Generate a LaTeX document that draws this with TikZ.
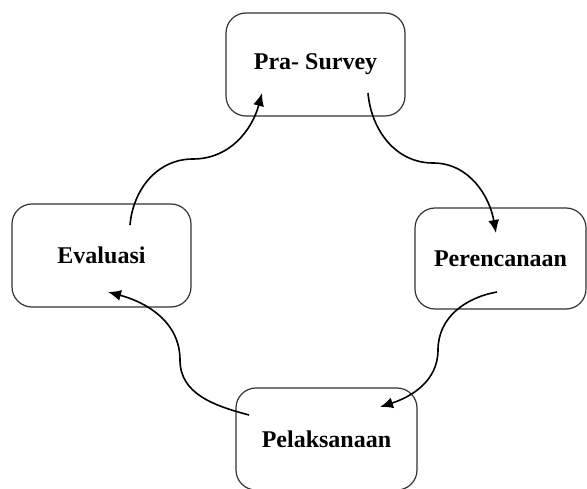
\documentclass[tikz,border=0pt]{standalone}
\usepackage{fontspec}
\setmainfont{Liberation Serif}
\usetikzlibrary{arrows.meta}

\tikzset{
  stage/.style={draw=black!80, line width=1.2pt, rounded corners=20pt,
    font=\fontsize{24}{28}\selectfont\bfseries, inner sep=0pt},
  flow/.style={line width=1.6pt, -{Latex[length=13pt,width=11pt]}}
}

\begin{document}
\begin{tikzpicture}[x=1pt,y=1pt]
\useasboundingbox (0,0) rectangle (587,488);

% nodes
\node [stage, minimum width=179, minimum height=103] (pra) at (315.5,423.5) {Pra- Survey};
\node [stage, minimum width=171, minimum height=101] (peren) at (500.5,229.5) {Perencanaan};
\node [stage, minimum width=181, minimum height=102] (pelak) at (326.5,49) {Pelaksanaan};
\node [stage, minimum width=179, minimum height=103] (eval) at (101.5,232.5) {Evaluasi};

% ends of the arrows
\coordinate (praout) at (368,395);
\coordinate (prain) at (262,395);
\coordinate (perenin) at (496,255);
\coordinate (perenout) at (497,196);
\coordinate (pelakin) at (380,81);
\coordinate (pelakout) at (249,73);
\coordinate (evalin) at (108,196);
\coordinate (evalout) at (130,263);

% bends
\coordinate (bendne) at (433,325);
\coordinate (bendse) at (438,138);
\coordinate (bendsw) at (180,128);
\coordinate (bendnw) at (193,329);

\draw [flow] (praout) to[out=-85,in=180] (bendne) to[out=0,in=100] (perenin);
\draw [flow] (perenout) to[out=190,in=90] (bendse) to[out=-90,in=18] (pelakin);
\draw [flow] (pelakout) to[out=165,in=-90] (bendsw) to[out=90,in=-15] (evalin);
\draw [flow] (evalout) to[out=85,in=180] (bendnw) to[out=0,in=-105] (prain);

\end{tikzpicture}
\end{document}
